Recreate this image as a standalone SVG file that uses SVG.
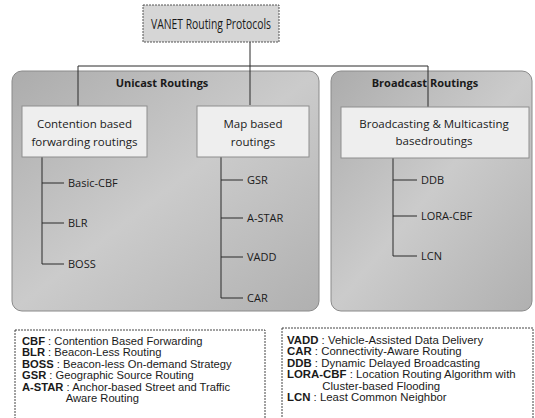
<svg xmlns="http://www.w3.org/2000/svg" width="535" height="418" viewBox="0 0 535 418">
<defs>
<style>
text{font-family:"Open Sans","Noto Sans","DejaVu Sans",sans-serif;fill:#1a1a1a}
.panel{stroke:#8a8a8a;stroke-width:1}
.box{fill:#eeeeee;stroke:#8e8e8e;stroke-width:1}
.top{fill:#d6d6d6;stroke:#555;stroke-width:1;stroke-dasharray:2 1}
.leg{fill:#ffffff;stroke:#444;stroke-width:1;stroke-dasharray:2 1}
.ln{fill:none;stroke:#2a2a2a;stroke-width:1}
.t13{font-size:14px}
.t12{font-size:11.5px}
.t11{font-size:11px}
.b{font-weight:bold}
.l{font-family:"Liberation Sans",Arial,sans-serif;font-size:10px}
</style>
<linearGradient id="pg" x1="0" y1="0" x2="1" y2="1">
<stop offset="0" stop-color="#acacac"/>
<stop offset="0.5" stop-color="#cbcbcb"/>
<stop offset="1" stop-color="#b0b0b0"/>
</linearGradient>
</defs>
<rect width="535" height="418" fill="#ffffff"/>

<g id="unicast-panel">
<rect class="panel" x="12" y="71" width="307" height="240" rx="10" fill="url(#pg)"/>
<text class="t11 b" x="162" y="87" text-anchor="middle">Unicast Routings</text>
</g>
<g id="broadcast-panel">
<rect class="panel" x="331" y="71" width="201" height="240" rx="10" fill="url(#pg)"/>
<text class="t11 b" x="425" y="87" text-anchor="middle">Broadcast Routings</text>
</g>

<g id="connectors">
<path class="ln" d="M250 42V105M78 66H428M78 66V106M428 66V107"/>
<path class="ln" d="M42 157V264M42 183H64M42 223H64M42 264H64"/>
<path class="ln" d="M221 157V298M221 180H243M221 218H243M221 257H243M221 298H243"/>
<path class="ln" d="M393 158V256M393 180H417M393 216H417M393 256H417"/>
</g>

<g id="root">
<rect class="top" x="143" y="5" width="136" height="37"/>
<text class="t13" x="151" y="29" textLength="120" lengthAdjust="spacingAndGlyphs">VANET Routing Protocols</text>
</g>

<g id="contention">
<rect class="box" x="22" y="106" width="125" height="51"/>
<text class="t12" x="84.5" y="128" text-anchor="middle">Contention based</text>
<text class="t12" x="84.5" y="146" text-anchor="middle">forwarding routings</text>
</g>
<g id="mapbased">
<rect class="box" x="197" y="106" width="112" height="51"/>
<text class="t12" x="253" y="128" text-anchor="middle">Map based</text>
<text class="t12" x="253" y="146" text-anchor="middle">routings</text>
</g>
<g id="bcast-multicast">
<rect class="box" x="341" y="107" width="188" height="51"/>
<text class="t12" x="434" y="128" text-anchor="middle">Broadcasting &amp; Multicasting</text>
<text class="t12" x="434" y="145" text-anchor="middle">basedroutings</text>
</g>

<g id="basic-cbf"><text class="t11" x="68" y="187">Basic-CBF</text></g>
<g id="blr"><text class="t11" x="68" y="227">BLR</text></g>
<g id="boss"><text class="t11" x="68" y="268">BOSS</text></g>
<g id="gsr"><text class="t11" x="247" y="184">GSR</text></g>
<g id="a-star"><text class="t11" x="247" y="222">A-STAR</text></g>
<g id="vadd"><text class="t11" x="247" y="261">VADD</text></g>
<g id="car"><text class="t11" x="247" y="302">CAR</text></g>
<g id="ddb"><text class="t11" x="421" y="184">DDB</text></g>
<g id="lora-cbf"><text class="t11" x="421" y="220">LORA-CBF</text></g>
<g id="lcn"><text class="t11" x="421" y="260">LCN</text></g>

<g id="legend-left">
<rect class="leg" x="15" y="330" width="250" height="90"/>
<g transform="translate(22,0) scale(1.12,1)">
<text class="l" x="0" y="345"><tspan class="b">CBF</tspan> : Contention Based Forwarding</text>
<text class="l" x="0" y="356.5"><tspan class="b">BLR</tspan> : Beacon-Less Routing</text>
<text class="l" x="0" y="368"><tspan class="b">BOSS</tspan> : Beacon-less On-demand Strategy</text>
<text class="l" x="0" y="379.5"><tspan class="b">GSR</tspan> : Geographic Source Routing</text>
<text class="l" x="0" y="391"><tspan class="b">A-STAR</tspan> : Anchor-based Street and Traffic</text>
<text class="l" x="39" y="402.5">Aware Routing</text>
</g>
</g>
<g id="legend-right">
<rect class="leg" x="282" y="328" width="251" height="92"/>
<g transform="translate(287,0) scale(1.14,1)">
<text class="l" x="0" y="344"><tspan class="b">VADD</tspan> : Vehicle-Assisted Data Delivery</text>
<text class="l" x="0" y="355.5"><tspan class="b">CAR</tspan> : Connectivity-Aware Routing</text>
<text class="l" x="0" y="367"><tspan class="b">DDB</tspan> : Dynamic Delayed Broadcasting</text>
<text class="l" x="0" y="378.5"><tspan class="b">LORA-CBF</tspan> : Location Routing Algorithm with</text>
<text class="l" x="31" y="390">Cluster-based Flooding</text>
<text class="l" x="0" y="401.5"><tspan class="b">LCN</tspan> : Least Common Neighbor</text>
</g>
</g>
</svg>
